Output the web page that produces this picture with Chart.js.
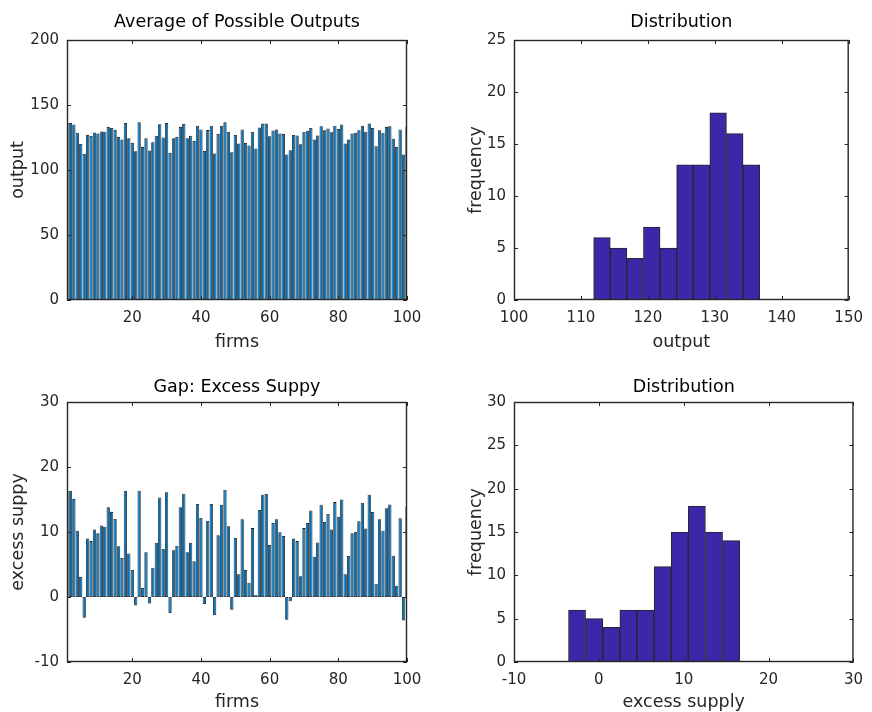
<!DOCTYPE html>
<html>
<head>
<meta charset="utf-8">
<script src="https://cdn.jsdelivr.net/npm/chart.js@4.4.1/dist/chart.umd.min.js"></script>
<style>
  body { margin: 0; background: #fff; }
  #wrap { position: relative; width: 872px; height: 712px; overflow: hidden; background: #fff; }
  canvas { position: absolute; }
</style>
</head>
<body>
<div id="wrap">
  <canvas id="outputBars" width="436" height="356" style="left:0;top:0"></canvas>
  <canvas id="outputHist" width="436" height="356" style="left:436px;top:0"></canvas>
  <canvas id="gapBars" width="436" height="356" style="left:0;top:356px"></canvas>
  <canvas id="gapHist" width="436" height="356" style="left:436px;top:356px"></canvas>
</div>
<script>
// firm index on the x axis
const firmIds = Array.from({ length: 100 }, (_, i) => i + 1);
const firmTicks = [20, 40, 60, 80, 100];

// average of possible outputs per firm
const avgOutput = [
  136.2, 136.2, 135.0, 128.6, 120.1, 112.4, 127.0, 126.2, 128.8, 128.0,
  129.6, 129.5, 133.2, 132.4, 130.9, 125.5, 123.4, 136.2, 124.5, 120.9,
  114.5, 136.7, 117.8, 124.5, 115.0, 121.4, 126.3, 135.2, 125.0, 136.2,
  113.2, 124.5, 125.5, 133.2, 135.5, 124.5, 126.3, 122.4, 134.1, 131.2,
  114.7, 130.7, 134.1, 112.7, 127.8, 134.1, 136.7, 129.5, 113.7, 127.0,
  120.4, 131.1, 120.9, 118.8, 129.5, 116.5, 132.7, 135.7, 135.7, 126.0,
  130.4, 131.1, 128.0, 127.8, 111.9, 115.2, 127.0, 126.6, 119.8, 129.5,
  130.2, 132.4, 123.4, 126.5, 133.7, 130.6, 131.9, 129.1, 134.1, 131.6,
  135.0, 120.4, 123.4, 128.0, 128.6, 130.6, 134.1, 129.5, 135.7, 132.4,
  118.3, 130.6, 128.6, 133.2, 133.7, 124.0, 117.8, 131.1, 111.9, 133.2
];

// excess supply per firm
const excessSupply = [
  16.35, 16.35, 15.1, 10.2, 3.1, -3.2, 9.0, 8.6, 10.4, 9.8,
  11.0, 10.8, 13.8, 13.1, 12.0, 7.8, 6.0, 16.35, 6.7, 4.15,
  -1.3, 16.35, 1.4, 6.9, -1.0, 4.5, 8.35, 15.3, 7.4, 16.1,
  -2.46, 7.2, 7.9, 13.8, 15.9, 6.9, 8.35, 5.5, 14.3, 12.15,
  -1.08, 11.7, 14.3, -2.8, 9.5, 14.2, 16.5, 10.9, -1.95, 9.1,
  3.5, 11.95, 4.15, 2.2, 10.6, 0.35, 13.4, 15.75, 15.85, 8.0,
  11.4, 11.95, 9.95, 9.4, -3.5, -0.67, 9.0, 8.6, 3.2, 10.6,
  11.4, 13.3, 6.2, 8.4, 14.2, 11.55, 12.77, 10.4, 14.6, 12.35,
  15.0, 3.5, 6.3, 9.8, 10.05, 11.65, 14.5, 10.55, 15.75, 13.1,
  2.05, 11.95, 10.2, 13.65, 14.25, 6.35, 1.75, 12.1, -3.6, 13.9
];

// histograms: bin centres and counts
const outputBinCenters = [113.14, 115.62, 118.10, 120.58, 123.06, 125.54, 128.02, 130.50, 132.98, 135.46];
const outputCounts = [6, 5, 4, 7, 5, 13, 13, 18, 16, 13];
const excessBinCenters = [-2.57, -0.55, 1.46, 3.48, 5.50, 7.52, 9.53, 11.55, 13.57, 15.59];
const excessCounts = [6, 5, 4, 6, 6, 11, 15, 18, 15, 14];

const FONT = '"DejaVu Sans", sans-serif';
const INK = '#262626';
const tickFont = { family: FONT, size: 15, lineHeight: '18px' };
const labelFont = { family: FONT, size: 17.5, lineHeight: '20px' };

// matlab style box with inward tick marks
const boxPlugin = {
  id: 'box',
  afterDatasetsDraw(chart) {
    const { ctx, chartArea: a, scales: { x, y } } = chart;
    ctx.save();
    ctx.strokeStyle = INK;
    ctx.lineWidth = 1;
    ctx.beginPath();
    x.ticks.forEach(t => {
      const px = Math.round(x.getPixelForValue(t.value)) + 0.5;
      ctx.moveTo(px, a.bottom); ctx.lineTo(px, a.bottom - 4);
      ctx.moveTo(px, a.top); ctx.lineTo(px, a.top + 4);
    });
    y.ticks.forEach(t => {
      const py = Math.round(y.getPixelForValue(t.value)) + 0.5;
      ctx.moveTo(a.left, py); ctx.lineTo(a.left + 4, py);
      ctx.moveTo(a.right, py); ctx.lineTo(a.right - 4, py);
    });
    ctx.stroke();
    ctx.lineWidth = 1.4;
    ctx.strokeRect(a.left + 0.5, a.top + 0.5, a.width - 1, a.height - 1);
    ctx.restore();
  }
};

function panel(id, o) {
  return new Chart(document.getElementById(id), {
    type: 'bar',
    data: {
      datasets: [{
        data: o.xs.map((x, i) => ({ x: x, y: o.ys[i] })),
        backgroundColor: o.fill,
        borderColor: o.edge,
        borderWidth: o.edgeWidth,
        borderSkipped: false,
        barPercentage: o.barPct,
        categoryPercentage: 1,
        clip: 0
      }]
    },
    options: {
      responsive: false,
      animation: false,
      layout: { padding: { left: 0, right: o.padRight, top: 0, bottom: 0 } },
      plugins: {
        legend: { display: false },
        tooltip: { enabled: false },
        title: {
          display: true, text: o.title, fullSize: false, color: '#000',
          font: Object.assign({ weight: 'normal' }, labelFont),
          padding: { top: o.titleTop, bottom: o.titleBottom }
        }
      },
      scales: {
        x: {
          type: 'linear', min: o.xMin, max: o.xMax, offset: false,
          grid: { display: false, drawTicks: false, offset: false },
          border: { display: false },
          ticks: { stepSize: o.xStep, color: INK, font: tickFont, padding: 9, maxRotation: 0, autoSkip: false },
          afterBuildTicks: o.xTicks ? s => { s.ticks = o.xTicks.map(v => ({ value: v })); } : undefined,
          afterFit: s => { s.height = o.xHeight; },
          title: { display: true, text: o.xLabel, color: INK, font: labelFont, padding: { top: 0, bottom: o.xLabelBottom } }
        },
        y: {
          min: o.yMin, max: o.yMax,
          grid: { display: false, drawTicks: false },
          border: { display: false },
          ticks: { stepSize: o.yStep, color: INK, font: tickFont, padding: 8 },
          afterFit: s => { s.width = o.yWidth; },
          title: { display: true, text: o.yLabel, color: INK, font: labelFont, padding: { top: o.yLabelPad, bottom: 0 } }
        }
      }
    },
    plugins: [boxPlugin]
  });
}

const firmBars = { fill: '#0072BD', edge: '#111', edgeWidth: 0.8, barPct: 0.95, xMin: 1, xMax: 100, xTicks: firmTicks, yWidth: 67, padRight: 29, yLabelPad: 8 };
const histBars = { fill: 'rgb(62,38,168)', edge: '#262626', edgeWidth: 1, barPct: 1, yWidth: 78, padRight: 14, yLabelPad: 30 };

panel('outputBars', Object.assign({}, firmBars, {
  xs: firmIds, ys: avgOutput, title: 'Average of Possible Outputs',
  titleTop: 12, titleBottom: 8, xHeight: 56, xLabelBottom: 4,
  xLabel: 'firms', yLabel: 'output', yMin: 0, yMax: 200, yStep: 50
}));

panel('outputHist', Object.assign({}, histBars, {
  xs: outputBinCenters, ys: outputCounts, title: 'Distribution',
  titleTop: 12, titleBottom: 8, xHeight: 56, xLabelBottom: 4,
  xMin: 100, xMax: 150, xStep: 10,
  xLabel: 'output', yLabel: 'frequency', yMin: 0, yMax: 25, yStep: 5
}));

panel('gapBars', Object.assign({}, firmBars, {
  xs: firmIds, ys: excessSupply, title: 'Gap: Excess Suppy',
  titleTop: 21, titleBottom: 5, xHeight: 50, xLabelBottom: 0,
  xLabel: 'firms', yLabel: 'excess suppy', yMin: -10, yMax: 30, yStep: 10
}));

panel('gapHist', Object.assign({}, histBars, {
  xs: excessBinCenters, ys: excessCounts, title: 'Distribution',
  titleTop: 21, titleBottom: 5, xHeight: 50, xLabelBottom: 0,
  xMin: -10, xMax: 30, xStep: 10,
  xLabel: 'excess supply', yLabel: 'frequency', yMin: 0, yMax: 30, yStep: 5
}));
</script>
</body>
</html>
